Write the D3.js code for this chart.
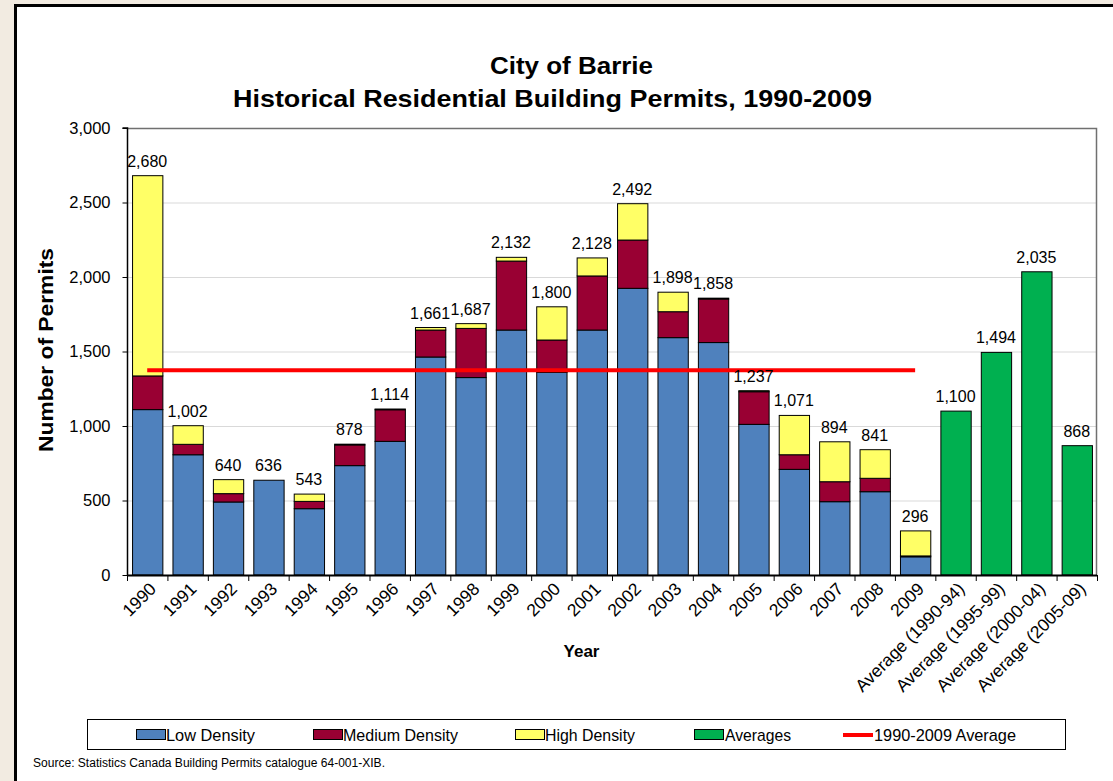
<!DOCTYPE html>
<html>
<head>
<meta charset="utf-8">
<script src="https://cdn.jsdelivr.net/npm/d3@7"></script>
<style>
  html, body { margin: 0; padding: 0; background: #f2ebe1; }
  svg { display: block; font-family: "Liberation Sans", Arial, sans-serif; }
</style>
</head>
<body>
<svg id="chart" width="1113" height="781"></svg>
<script>
// ---- data ----
const years = ["1990","1991","1992","1993","1994","1995","1996","1997","1998","1999",
               "2000","2001","2002","2003","2004","2005","2006","2007","2008","2009"];
const lowDensity    = [1110, 807, 490, 636, 445, 734, 897, 1463, 1325, 1644, 1360, 1644, 1924, 1593, 1560, 1011, 709, 492, 559, 122];
const mediumDensity = [ 226,  70,  56,   0,  49, 139, 212,  181,  330,  463,  217,  363,  324,  174,  292,  219,  98, 134,  90,   6];
const highDensity   = [1344, 125,  94,   0,  49,   5,   5,   17,   32,   25,  223,  121,  244,  131,    6,    7, 264, 268, 192, 168];
const yearTotals    = [2680, 1002, 640, 636, 543, 878, 1114, 1661, 1687, 2132, 1800, 2128, 2492, 1898, 1858, 1237, 1071, 894, 841, 296];
const averageLabels = ["Average (1990-94)","Average (1995-99)","Average (2000-04)","Average (2005-09)"];
const averageValues = [1100, 1494, 2035, 868];
const overallAverage = 1374;
const yTicks = [0, 500, 1000, 1500, 2000, 2500, 3000];
const seriesNames = ["Low Density","Medium Density","High Density","Averages","1990-2009 Average"];
const colors = { low: "#4f81bd", medium: "#990033", high: "#ffff66", avg: "#00b050", line: "#ff0000" };

// ---- layout ----
const svg = d3.select("#chart");
const W = 1113, H = 781;
const plot = { left: 127, right: 1097, top: 128, bottom: 575 };

// outer frame
svg.append("rect").attr("x", 0).attr("y", 0).attr("width", W).attr("height", H).attr("fill", "#f2ebe1");
svg.append("rect").attr("x", 15.5).attr("y", 5.5).attr("width", W + 20).attr("height", H + 20)
  .attr("fill", "#ffffff").attr("stroke", "#000").attr("stroke-width", 3);

const categories = years.concat(averageLabels);
const x = d3.scaleBand().domain(categories).range([plot.left, plot.right]).paddingInner(0.25).paddingOuter(0.125);
const y = d3.scaleLinear().domain([0, 3000]).range([plot.bottom, plot.top]);

// gridlines
svg.append("g").selectAll("line").data(yTicks.filter(t => t > 0)).join("line")
  .attr("x1", plot.left).attr("x2", plot.right)
  .attr("y1", d => y(d) + 0.5).attr("y2", d => y(d) + 0.5)
  .attr("stroke", "#d9d9d9").attr("stroke-width", 1);

// plot border (top/right)
svg.append("path")
  .attr("d", `M${plot.left},${plot.top + 0.5}H${plot.right - 0.5}V${plot.bottom}`)
  .attr("fill", "none").attr("stroke", "#707070").attr("stroke-width", 1.5);

// stacked bars
const stackData = years.map((yr, i) => ({ year: yr, low: lowDensity[i], medium: mediumDensity[i], high: highDensity[i] }));
const stack = d3.stack().keys(["low", "medium", "high"]);
const layers = stack(stackData);
svg.append("g").selectAll("g").data(layers).join("g")
  .attr("fill", d => colors[d.key])
  .selectAll("rect").data(d => d.filter(s => s[1] - s[0] > 0)).join("rect")
  .attr("x", d => x(d.data.year) + 0.5)
  .attr("y", d => y(d[1]))
  .attr("width", x.bandwidth())
  .attr("height", d => y(d[0]) - y(d[1]))
  .attr("stroke", "#000").attr("stroke-width", 1);

// averages bars
svg.append("g").selectAll("rect").data(averageLabels).join("rect")
  .attr("x", d => x(d) + 0.5)
  .attr("y", (d, i) => y(averageValues[i]))
  .attr("width", x.bandwidth())
  .attr("height", (d, i) => y(0) - y(averageValues[i]))
  .attr("fill", colors.avg).attr("stroke", "#000").attr("stroke-width", 1);

// overall average line
svg.append("line")
  .attr("x1", x(years[0]) + x.bandwidth() / 2)
  .attr("x2", x(years[years.length - 1]) + x.bandwidth() / 2)
  .attr("y1", y(overallAverage)).attr("y2", y(overallAverage))
  .attr("stroke", colors.line).attr("stroke-width", 4);

// value labels
const labelData = years.map((yr, i) => ({ c: yr, v: yearTotals[i] }))
  .concat(averageLabels.map((a, i) => ({ c: a, v: averageValues[i] })));
svg.append("g").selectAll("text").data(labelData).join("text")
  .attr("x", d => x(d.c) + x.bandwidth() / 2)
  .attr("y", d => y(d.v) - 9)
  .attr("text-anchor", "middle").attr("font-size", 16).attr("fill", "#000")
  .text(d => d3.format(",")(d.v));

// y axis
const yAxis = svg.append("g").attr("transform", `translate(${plot.left + 0.5},0)`)
  .call(d3.axisLeft(y).tickValues(yTicks).tickFormat(d3.format(",")).tickSize(5).tickPadding(12));
yAxis.select(".domain").attr("stroke", "#000").attr("stroke-width", 1.5).attr("d", `M-5,${plot.top}H0V${plot.bottom}H0`);
yAxis.selectAll(".tick line").attr("stroke", "#000");
yAxis.selectAll(".tick text").attr("font-size", 16.5).attr("fill", "#000").attr("font-family", "Liberation Sans, Arial, sans-serif");

// x axis
const boundaries = d3.range(categories.length + 1).map(i => plot.left + i * (plot.right - plot.left) / categories.length);
const xg = svg.append("g");
xg.append("line").attr("x1", plot.left).attr("x2", plot.right).attr("y1", plot.bottom + 0.5).attr("y2", plot.bottom + 0.5)
  .attr("stroke", "#000").attr("stroke-width", 2);
xg.selectAll("line.t").data(boundaries).join("line").attr("class", "t")
  .attr("x1", d => d + 0.5).attr("x2", d => d + 0.5)
  .attr("y1", plot.bottom).attr("y2", plot.bottom + 6)
  .attr("stroke", "#000").attr("stroke-width", 1);
xg.selectAll("text").data(categories).join("text")
  .attr("transform", d => `translate(${x(d) + x.bandwidth() / 2 + 10},${plot.bottom + 15}) rotate(-45)`)
  .attr("text-anchor", "end").attr("font-size", 17.5).attr("fill", "#000")
  .text(d => d);

// titles
svg.append("text").attr("x", 571.5).attr("y", 74).attr("text-anchor", "middle")
  .attr("font-size", 24).attr("font-weight", "bold")
  .attr("textLength", 163).attr("lengthAdjust", "spacingAndGlyphs").text("City of Barrie");
svg.append("text").attr("x", 552.5).attr("y", 107).attr("text-anchor", "middle")
  .attr("font-size", 24).attr("font-weight", "bold")
  .attr("textLength", 639).attr("lengthAdjust", "spacingAndGlyphs")
  .text("Historical Residential Building Permits, 1990-2009");

// axis titles
svg.append("text").attr("transform", "translate(53,350) rotate(-90)").attr("text-anchor", "middle")
  .attr("font-size", 21).attr("font-weight", "bold")
  .attr("textLength", 204).attr("lengthAdjust", "spacingAndGlyphs").text("Number of Permits");
svg.append("text").attr("x", 581.5).attr("y", 657).attr("text-anchor", "middle")
  .attr("font-size", 17).attr("font-weight", "bold").text("Year");

// legend
const lg = svg.append("g");
lg.append("rect").attr("x", 87.5).attr("y", 719.5).attr("width", 978).attr("height", 30)
  .attr("fill", "#fff").attr("stroke", "#000").attr("stroke-width", 1);
const legendItems = [
  { name: seriesNames[0], fill: colors.low,    sx: 136, tx: 166, tw: 89 },
  { name: seriesNames[1], fill: colors.medium, sx: 313, tx: 343, tw: 115 },
  { name: seriesNames[2], fill: colors.high,   sx: 515, tx: 545, tw: 90 },
  { name: seriesNames[3], fill: colors.avg,    sx: 694, tx: 725, tw: 66 },
  { name: seriesNames[4], fill: null,          sx: 843, tx: 874, tw: 142 }
];
legendItems.forEach(it => {
  if (it.fill) {
    lg.append("rect").attr("x", it.sx + 0.5).attr("y", 729.5).attr("width", 29).attr("height", 10)
      .attr("fill", it.fill).attr("stroke", "#000").attr("stroke-width", 1);
  } else {
    lg.append("line").attr("x1", it.sx).attr("x2", it.sx + 30).attr("y1", 735).attr("y2", 735)
      .attr("stroke", colors.line).attr("stroke-width", 4);
  }
  lg.append("text").attr("x", it.tx).attr("y", 741)
    .attr("font-size", 17).attr("textLength", it.tw).attr("lengthAdjust", "spacingAndGlyphs")
    .attr("fill", "#000").text(it.name);
});

// source note
svg.append("text").attr("x", 33).attr("y", 767).attr("font-size", 12)
  .attr("textLength", 352).attr("lengthAdjust", "spacingAndGlyphs")
  .text("Source: Statistics Canada Building Permits catalogue 64-001-XIB.");
</script>
</body>
</html>
